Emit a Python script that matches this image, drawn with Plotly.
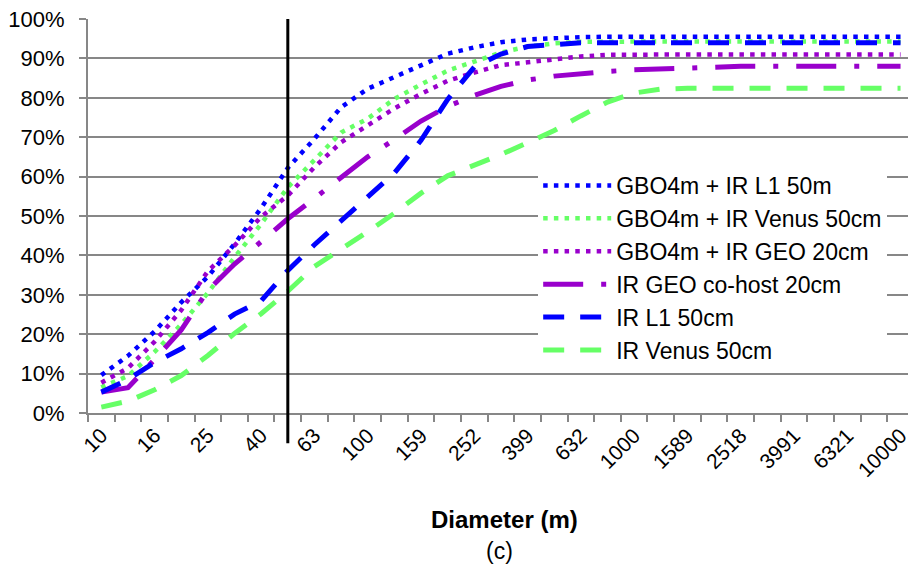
import plotly.graph_objects as go

# ---------------- data ----------------
diameters = ["10", "13", "16", "20", "25", "32", "40", "50", "63", "79",
             "100", "126", "159", "200", "252", "316", "399", "501", "632", "794",
             "1000", "1259", "1589", "1995", "2518", "3162", "3991", "5012", "6321", "7943",
             "10000"]
shown_labels = ["10", "", "16", "", "25", "", "40", "", "63", "",
                "100", "", "159", "", "252", "", "399", "", "632", "",
                "1000", "", "1589", "", "2518", "", "3991", "", "6321", "",
                "10000"]

gbo_ir_l1 = [0.096, 0.145, 0.207, 0.281, 0.346, 0.429, 0.520, 0.622, 0.696, 0.776,
             0.823, 0.853, 0.885, 0.912, 0.928, 0.941, 0.948, 0.952, 0.954, 0.955,
             0.955, 0.955, 0.955, 0.955, 0.955, 0.955, 0.955, 0.955, 0.955, 0.955,
             0.955]
gbo_ir_venus = [0.065, 0.094, 0.155, 0.225, 0.305, 0.395, 0.480, 0.573, 0.642, 0.712,
                0.747, 0.797, 0.834, 0.869, 0.892, 0.915, 0.930, 0.938, 0.942, 0.943,
                0.943, 0.943, 0.943, 0.943, 0.943, 0.943, 0.943, 0.943, 0.943, 0.943,
                0.943]
gbo_ir_geo = [0.077, 0.114, 0.181, 0.261, 0.360, 0.425, 0.498, 0.552, 0.624, 0.687,
              0.730, 0.773, 0.810, 0.843, 0.864, 0.883, 0.890, 0.898, 0.905, 0.909,
              0.910, 0.910, 0.910, 0.910, 0.910, 0.910, 0.910, 0.910, 0.910, 0.910,
              0.910]
ir_geo_cohost = [0.053, 0.064, 0.136, 0.211, 0.311, 0.378, 0.435, 0.493, 0.545, 0.598,
                 0.650, 0.694, 0.741, 0.778, 0.806, 0.829, 0.845, 0.855, 0.862, 0.867,
                 0.871, 0.874, 0.876, 0.878, 0.880, 0.880, 0.880, 0.880, 0.880, 0.880,
                 0.880]
ir_l1 = [0.053, 0.085, 0.128, 0.163, 0.204, 0.251, 0.285, 0.362, 0.427, 0.487,
         0.550, 0.609, 0.692, 0.796, 0.878, 0.911, 0.930, 0.936, 0.940, 0.940,
         0.940, 0.940, 0.940, 0.940, 0.940, 0.940, 0.940, 0.940, 0.940, 0.940,
         0.940]
ir_venus = [0.015, 0.030, 0.059, 0.095, 0.146, 0.202, 0.252, 0.309, 0.372, 0.415,
            0.460, 0.507, 0.558, 0.602, 0.628, 0.656, 0.686, 0.717, 0.754, 0.789,
            0.812, 0.822, 0.824, 0.824, 0.824, 0.824, 0.824, 0.824, 0.824, 0.824,
            0.824]

series_names = ["GBO4m + IR L1 50m", "GBO4m + IR Venus 50cm", "GBO4m + IR GEO 20cm",
                "IR GEO co-host 20cm", "IR L1 50cm", "IR Venus 50cm"]
series_values = [gbo_ir_l1, gbo_ir_venus, gbo_ir_geo, ir_geo_cohost, ir_l1, ir_venus]
series_colors = ["#0000FF", "#66FF66", "#9900CC", "#9900CC", "#0000FF", "#66FF66"]
series_dash = ["4.5px,6.2px", "4.5px,6.2px", "4.5px,6.2px", "40px,18px,5px,18px",
               "21px,16px", "21px,16px"]
series_width = [4.5, 4.5, 4.5, 5, 5, 5]

marker_diameter = "50"

FONT = "Liberation Sans, Arial, sans-serif"
GRID = "#878787"

fig = go.Figure()
for name, vals, col, dash, w in zip(series_names, series_values, series_colors,
                                     series_dash, series_width):
    fig.add_trace(go.Scatter(x=diameters, y=vals, name=name, mode="lines",
                             line=dict(color=col, width=w, dash=dash)))

marker_index = diameters.index(marker_diameter)
fig.add_shape(type="line", xref="x", yref="paper", x0=marker_index, x1=marker_index,
              y0=-0.077, y1=1, line=dict(color="black", width=3), layer="above")

fig.update_layout(
    width=911, height=567,
    margin=dict(l=88, r=0, t=19, b=154),
    paper_bgcolor="white", plot_bgcolor="white",
    font=dict(family=FONT, color="black"),
    showlegend=True,
    legend=dict(x=0.549, y=0.632, xanchor="left", yanchor="top",
                bgcolor="white", borderwidth=0, itemwidth=68,
                font=dict(family=FONT, size=23, color="black"),
                tracegroupgap=0),
    xaxis=dict(type="category", range=[-0.5, 30.28],
               tickmode="array", tickvals=diameters, ticktext=shown_labels,
               tickson="boundaries", ticks="outside", ticklen=7, tickwidth=2,
               tickcolor=GRID, showgrid=False, showline=True, linecolor=GRID,
               linewidth=2, tickangle=-45, zeroline=False,
               tickfont=dict(family=FONT, size=21, color="black")),
    yaxis=dict(range=[0, 1], dtick=0.1, tickformat=".0%", showgrid=True,
               gridcolor=GRID, gridwidth=2, showline=True, linecolor=GRID,
               linewidth=2, ticks="outside", ticklen=7, tickwidth=2,
               tickcolor=GRID, zeroline=False, ticklabelstandoff=10,
               tickfont=dict(family=FONT, size=22, color="black")),
    annotations=[
        dict(text="<b>Diameter (m)</b>", xref="paper", yref="paper",
             x=0.508, y=-0.271, xanchor="center", yanchor="middle",
             showarrow=False, font=dict(family=FONT, size=24, color="black")),
        dict(text="(c)", xref="paper", yref="paper",
             x=0.502, y=-0.349, xanchor="center", yanchor="middle",
             showarrow=False, font=dict(family=FONT, size=23, color="black")),
    ],
)

fig.write_html("out.html", config={"displayModeBar": False},
               post_script="document.body.style.margin='0';document.body.style.overflow='hidden';")
